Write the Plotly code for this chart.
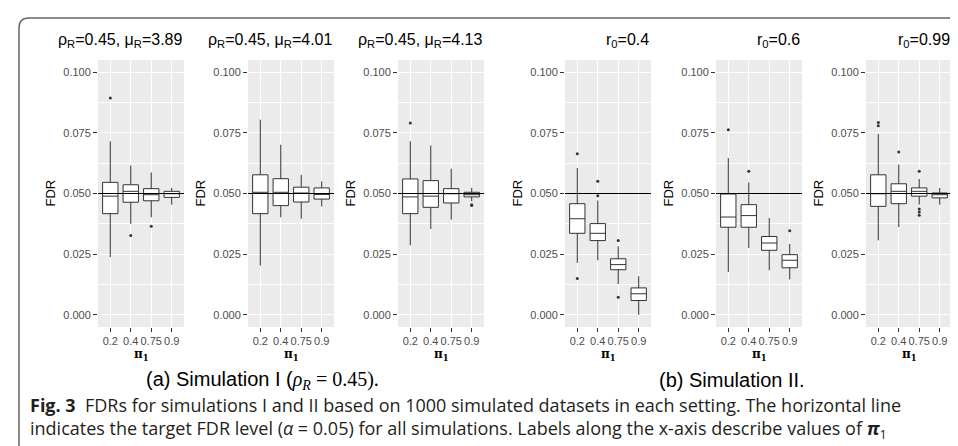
import plotly.graph_objects as go

W, H = 958, 446

pi1_labels = ["0.2", "0.4", "0.75", "0.9"]
panel_titles = [
    "ρ<sub>R</sub>=0.45, μ<sub>R</sub>=3.89",
    "ρ<sub>R</sub>=0.45, μ<sub>R</sub>=4.01",
    "ρ<sub>R</sub>=0.45, μ<sub>R</sub>=4.13",
    "r<sub>0</sub>=0.4",
    "r<sub>0</sub>=0.6",
    "r<sub>0</sub>=0.99",
]
y_ticks = [0.0, 0.025, 0.05, 0.075, 0.1]
y_minor = [0.0125, 0.0375, 0.0625, 0.0875]
target_fdr = 0.05

# Panel 1: rho_R=0.45, mu_R=3.89
p1_lower = [0.0238, 0.0375, 0.0402, 0.0454]
p1_q1 = [0.0417, 0.0464, 0.0470, 0.0484]
p1_median = [0.0489, 0.0509, 0.0495, 0.0499]
p1_q3 = [0.0546, 0.0536, 0.0520, 0.0509]
p1_upper = [0.0715, 0.0615, 0.0587, 0.0523]
p1_out_x = ["0.2", "0.4", "0.75"]
p1_out_y = [0.0893, 0.0327, 0.0365]

# Panel 2: rho_R=0.45, mu_R=4.01
p2_lower = [0.0203, 0.0402, 0.0396, 0.0447]
p2_q1 = [0.0417, 0.0450, 0.0465, 0.0477]
p2_median = [0.0505, 0.0505, 0.0502, 0.0496]
p2_q3 = [0.0577, 0.0561, 0.0526, 0.0523]
p2_upper = [0.0804, 0.0701, 0.0577, 0.0550]
p2_out_x = []
p2_out_y = []

# Panel 3: rho_R=0.45, mu_R=4.13
p3_lower = [0.0287, 0.0354, 0.0392, 0.0468]
p3_q1 = [0.0417, 0.0443, 0.0461, 0.0486]
p3_median = [0.0486, 0.0489, 0.0499, 0.0495]
p3_q3 = [0.0560, 0.0553, 0.0520, 0.0505]
p3_upper = [0.0715, 0.0698, 0.0602, 0.0523]
p3_out_x = ["0.2", "0.9", "0.9"]
p3_out_y = [0.0790, 0.0454, 0.0451]

# Panel 4: r0=0.4
p4_lower = [0.0214, 0.0225, 0.0127, 0.0000]
p4_q1 = [0.0336, 0.0306, 0.0186, 0.0059]
p4_median = [0.0396, 0.0336, 0.0207, 0.0087]
p4_q3 = [0.0458, 0.0376, 0.0231, 0.0111]
p4_upper = [0.0605, 0.0471, 0.0282, 0.0159]
p4_out_x = ["0.2", "0.2", "0.4", "0.4", "0.75", "0.75"]
p4_out_y = [0.0664, 0.0150, 0.0550, 0.0491, 0.0306, 0.0073]

# Panel 5: r0=0.6
p5_lower = [0.0177, 0.0276, 0.0184, 0.0146]
p5_q1 = [0.0361, 0.0361, 0.0266, 0.0194]
p5_median = [0.0403, 0.0409, 0.0296, 0.0225]
p5_q3 = [0.0498, 0.0454, 0.0323, 0.0248]
p5_upper = [0.0646, 0.0546, 0.0399, 0.0292]
p5_out_x = ["0.2", "0.4", "0.9"]
p5_out_y = [0.0763, 0.0592, 0.0347]

# Panel 6: r0=0.99
p6_lower = [0.0307, 0.0362, 0.0454, 0.0454]
p6_q1 = [0.0447, 0.0458, 0.0489, 0.0482]
p6_median = [0.0499, 0.0509, 0.0509, 0.0495]
p6_q3 = [0.0577, 0.0540, 0.0523, 0.0502]
p6_upper = [0.0745, 0.0619, 0.0560, 0.0523]
p6_out_x = ["0.2", "0.2", "0.4", "0.75", "0.75", "0.75", "0.75"]
p6_out_y = [0.0793, 0.0779, 0.0671, 0.0592, 0.0436, 0.0424, 0.0410]

panels = [
    (p1_lower, p1_q1, p1_median, p1_q3, p1_upper, p1_out_x, p1_out_y),
    (p2_lower, p2_q1, p2_median, p2_q3, p2_upper, p2_out_x, p2_out_y),
    (p3_lower, p3_q1, p3_median, p3_q3, p3_upper, p3_out_x, p3_out_y),
    (p4_lower, p4_q1, p4_median, p4_q3, p4_upper, p4_out_x, p4_out_y),
    (p5_lower, p5_q1, p5_median, p5_q3, p5_upper, p5_out_x, p5_out_y),
    (p6_lower, p6_q1, p6_median, p6_q3, p6_upper, p6_out_x, p6_out_y),
]

caption_a = "(a) Simulation I (<span style='font-family:Liberation Serif'><i>ρ<sub>R</sub></i> = 0.45).</span>"
caption_b = "(b) Simulation II."
fig_line1 = "<b>Fig. 3</b>  FDRs for simulations I and II based on 1000 simulated datasets in each setting. The horizontal line"
fig_line2 = "indicates the target FDR level (<i>α</i> = 0.05) for all simulations. Labels along the x-axis describe values of <b><i>π</i></b><sub>1</sub>"

# layout geometry (pixels)
panel_left = [90, 240, 390, 557, 708, 858]
panel_w = 86
panel_top, panel_bottom = 52, 319


def px(x):
    return x / W


def py(y):
    return 1 - y / H


fig = go.Figure()
annotations = []
shapes = []
layout_axes = {}

for i, (lo, q1, med, q3, up, ox, oy) in enumerate(panels):
    n = i + 1
    xa = "x" if n == 1 else f"x{n}"
    ya = "y" if n == 1 else f"y{n}"
    fig.add_trace(go.Box(
        x=pi1_labels, q1=q1, median=med, q3=q3, lowerfence=lo, upperfence=up,
        xaxis=xa, yaxis=ya, fillcolor="white",
        line=dict(color="#333333", width=1), width=0.75,
        boxpoints=False, hoverinfo="skip", whiskerwidth=0,
    ))
    if ox:
        fig.add_trace(go.Scatter(
            x=ox, y=oy, mode="markers", xaxis=xa, yaxis=ya,
            marker=dict(color="#333333", size=3), hoverinfo="skip",
        ))
    L = panel_left[i]
    R = L + panel_w
    layout_axes["xaxis" if n == 1 else f"xaxis{n}"] = dict(
        domain=[px(L), px(R)], anchor=ya, type="category",
        categoryorder="array", categoryarray=pi1_labels,
        range=[-0.6, 3.6], showgrid=True, gridcolor="white", gridwidth=1.2,
        ticks="outside", ticklen=4, tickcolor="#333333", tickwidth=1,
        tickfont=dict(family="Liberation Sans", size=11, color="#4D4D4D"),
        showline=False, zeroline=False, fixedrange=True,
    )
    layout_axes["yaxis" if n == 1 else f"yaxis{n}"] = dict(
        domain=[py(panel_bottom), py(panel_top)], anchor=xa,
        range=[-0.005, 0.105], tickmode="array", tickvals=y_ticks,
        tickformat=".3f", showgrid=True, gridcolor="white", gridwidth=1.2,
        minor=dict(tickmode="array", tickvals=y_minor, showgrid=True,
                   gridcolor="white", gridwidth=0.6, ticks=""),
        ticks="outside", ticklen=4, tickcolor="#333333", tickwidth=1,
        tickfont=dict(family="Liberation Sans", size=11, color="#4D4D4D"),
        showline=False, zeroline=False, fixedrange=True,
    )
    shapes.append(dict(
        type="line", xref=f"{xa} domain", yref=ya, x0=0, x1=1,
        y0=target_fdr, y1=target_fdr, line=dict(color="black", width=1),
        layer="above",
    ))
    annotations.append(dict(
        x=px(R), y=py(33), xref="paper", yref="paper", xanchor="right",
        yanchor="middle", text=panel_titles[i], showarrow=False,
        font=dict(family="Liberation Sans", size=16, color="black"),
    ))
    annotations.append(dict(
        x=px(L - 48), y=py(185.5), xref="paper", yref="paper",
        xanchor="center", yanchor="middle", text="FDR", textangle=-90,
        showarrow=False,
        font=dict(family="Liberation Sans", size=13, color="black"),
    ))
    annotations.append(dict(
        x=px(L + panel_w / 2), y=py(347), xref="paper", yref="paper",
        xanchor="center", yanchor="middle", text="<b>π<sub>1</sub></b>",
        showarrow=False,
        font=dict(family="DejaVu Serif", size=12, color="black"),
    ))

annotations += [
    dict(x=px(254), y=py(372), xref="paper", yref="paper", xanchor="center",
         yanchor="middle", text=caption_a, showarrow=False,
         font=dict(family="Liberation Sans", size=20, color="black")),
    dict(x=px(724), y=py(372), xref="paper", yref="paper", xanchor="center",
         yanchor="middle", text=caption_b, showarrow=False,
         font=dict(family="Liberation Sans", size=20, color="black")),
    dict(x=px(20), y=py(410), xref="paper", yref="paper", xanchor="left",
         yanchor="middle", align="left", text=fig_line1 + "<br>" + fig_line2,
         showarrow=False,
         font=dict(family="Open Sans", size=18, color="#231F20")),
]

border_path = (f"M {px(11)},{py(446)} L {px(11)},{py(20)} "
               f"Q {px(11)},{py(10)} {px(21)},{py(10)} L {px(958)},{py(10)}")
shapes.append(dict(type="path", xref="paper", yref="paper", path=border_path,
                   line=dict(color="#666666", width=1.5), layer="above"))

fig.update_layout(
    width=W, height=H, margin=dict(l=0, r=0, t=0, b=0),
    paper_bgcolor="white", plot_bgcolor="#EBEBEB", showlegend=False,
    annotations=annotations, shapes=shapes, **layout_axes,
)

fig.write_html("out.html", config={"displayModeBar": False})
